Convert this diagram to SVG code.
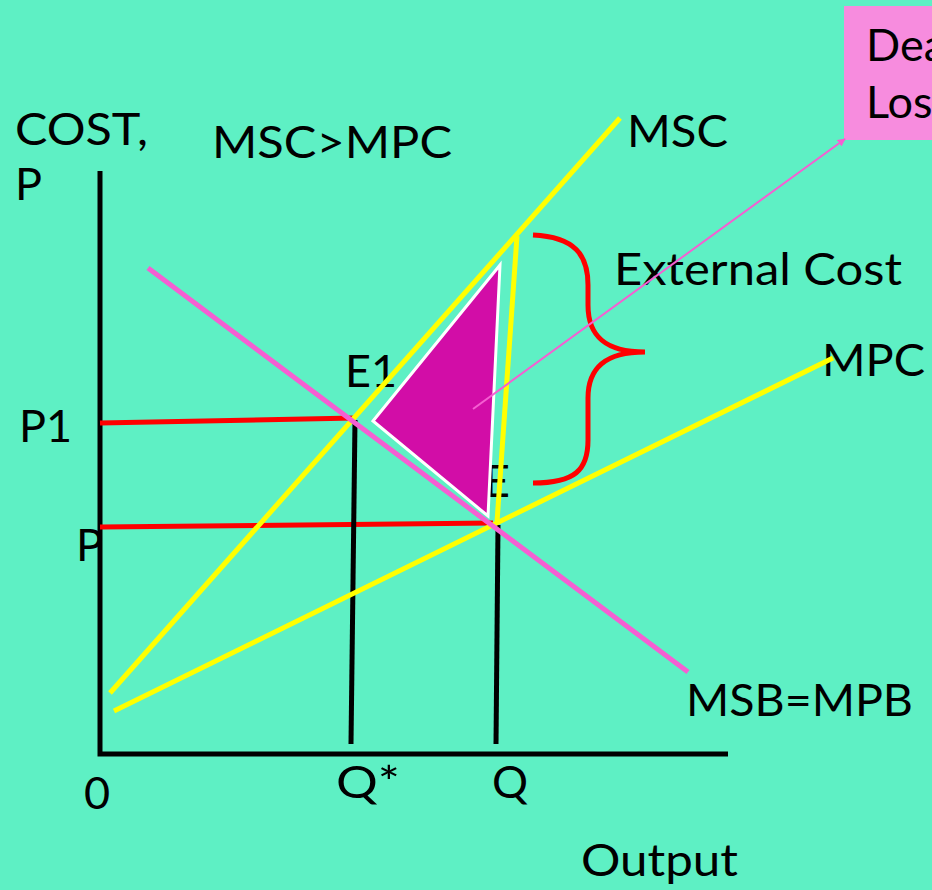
<svg xmlns="http://www.w3.org/2000/svg" width="932" height="890" viewBox="0 0 932 890">
  <style>
    .t { font-family: Lato, "Liberation Sans", sans-serif; font-size: 45px; fill: #000; }
    .axis { stroke: #000; stroke-width: 5; fill: none; }
    .yel { stroke: #FFFF00; stroke-width: 5; fill: none; }
    .red { stroke: #FF0000; stroke-width: 5; fill: none; }
    .blk { stroke: #000; stroke-width: 5; fill: none; }
    .pnk { stroke: #F55FD2; stroke-width: 5; fill: none; }
  </style>
  <defs>
    <marker id="ah" viewBox="0 0 10 10" refX="9" refY="5" markerWidth="4" markerHeight="4" orient="auto">
      <path d="M0,0 L10,5 L0,10 z" fill="#F55FD2"/>
    </marker>
  </defs>
  <rect x="0" y="0" width="932" height="890" fill="#5EF0C4"/>

  <g id="deadweight-box">
    <rect x="844" y="6" width="100" height="134" fill="#F78CDE"/>
    <text class="t" x="866" y="61">Dea</text>
    <text class="t" x="866" y="118">Los</text>
  </g>

  <g id="labels">
    <text class="t" x="15" y="145" textLength="133" lengthAdjust="spacingAndGlyphs">COST,</text>
    <text class="t" x="15" y="200">P</text>
    <text class="t" x="212" y="158" textLength="240" lengthAdjust="spacingAndGlyphs">MSC&gt;MPC</text>
    <text class="t" x="627" y="147" textLength="101" lengthAdjust="spacingAndGlyphs">MSC</text>
    <text class="t" x="614" y="285" textLength="288" lengthAdjust="spacingAndGlyphs">External Cost</text>
    <text class="t" x="822" y="376" textLength="103" lengthAdjust="spacingAndGlyphs">MPC</text>
    <text class="t" x="686" y="716" textLength="227" lengthAdjust="spacingAndGlyphs">MSB=MPB</text>
    <text class="t" x="345" y="387">E1</text>
    <text class="t" x="484" y="497">E</text>
    <text class="t" x="19" y="442">P1</text>
    <text class="t" x="76" y="561">P</text>
    <text class="t" x="84" y="809">0</text>
    <text class="t" x="336" y="798" textLength="64" lengthAdjust="spacingAndGlyphs">Q*</text>
    <text class="t" x="492" y="798">Q</text>
    <text class="t" x="581" y="876" textLength="157" lengthAdjust="spacingAndGlyphs">Output</text>
  </g>

  <g id="axes">
    <path class="axis" d="M100,171 L100,754 L728,754"/>
  </g>

  <g id="connectors">
    <path class="red" d="M100,423 L355,418"/>
    <path class="red" d="M100,527 L493,523"/>
    <path class="blk" d="M355,420 L351,744"/>
    <path class="blk" d="M498,525 L496,744"/>
    <path class="yel" d="M110,693 L620,118"/>
    <path class="yel" d="M114,711 L833,358"/>
    <path class="yel" d="M517,236 L497,522"/>
    <path class="pnk" d="M148,268 L688,672"/>
    <path class="red" d="M533,235 C575,237 588,255 588,285 L588,305 C588,336 605,352 645,352 C605,352 588,368 588,398 L588,440 C588,470 575,483 533,483"/>
  </g>

  <g id="deadweight-triangle">
    <path d="M373,421 L500,265 L488,516 Z" fill="#D20DA7" stroke="#FFFFFF" stroke-width="3" stroke-linejoin="miter"/>
  </g>

  <g id="pointer">
    <path d="M473,409 L845,139" stroke="#F55FD2" stroke-width="2" fill="none" marker-end="url(#ah)"/>
  </g>
</svg>
